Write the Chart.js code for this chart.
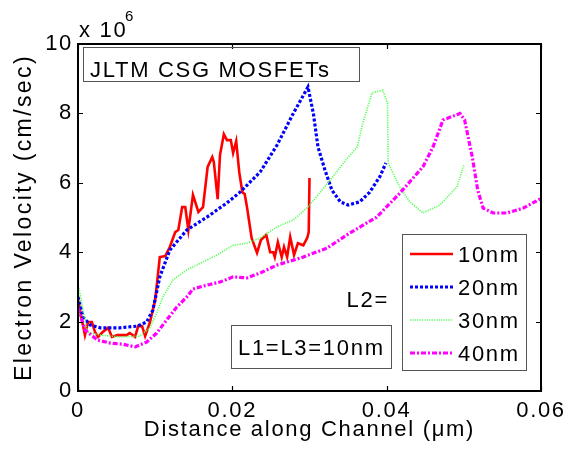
<!DOCTYPE html>
<html><head><meta charset="utf-8">
<script src="https://cdn.jsdelivr.net/npm/chart.js@4.4.0/dist/chart.umd.min.js"></script>
<style>html,body{margin:0;padding:0;background:#fff;overflow:hidden}</style>
</head><body>
<canvas id="c" width="574" height="451"></canvas>
<script>
// ---- data (velocity in units of 1e6 cm/sec, distance in µm) ----
const seriesLabels = ['10nm', '20nm', '30nm', '40nm'];

const x10 = [0,0.0009,0.0013,0.0018,0.0022,0.0026,0.0032,0.0039,0.0044,0.0051,0.0063,0.0067,0.0074,0.0078,0.0083,0.0087,0.0093,0.0100,0.0106,0.0113,0.0119,0.0126,0.0130,0.0135,0.0139,0.0143,0.0149,0.0156,0.0162,0.0168,0.0174,0.0176,0.0181,0.0184,0.0189,0.0193,0.0198,0.0201,0.0205,0.0209,0.0213,0.0216,0.0219,0.0225,0.0232,0.0237,0.0244,0.0249,0.0253,0.0255,0.0259,0.0264,0.0267,0.0271,0.0275,0.0280,0.0285,0.0292,0.0297,0.0299,0.0300];
const v10 = [2.62,1.61,1.99,1.99,1.70,1.56,1.70,1.82,1.56,1.61,1.61,1.67,1.56,1.87,1.87,1.58,1.96,2.62,3.86,3.89,4.15,4.58,4.64,5.30,5.30,4.64,5.65,5.16,5.30,6.46,6.74,6.60,5.53,6.80,7.40,7.23,7.23,6.86,7.20,6.30,5.73,5.68,5.30,4.41,3.98,4.35,4.50,4.00,4.00,3.86,4.29,3.86,4.15,3.86,4.44,3.92,4.26,4.20,4.41,4.58,6.14];

const x20 = [0,0.00065,0.0016,0.0029,0.0054,0.0077,0.0089,0.0097,0.0106,0.0119,0.0141,0.0167,0.0193,0.0210,0.0236,0.0258,0.0279,0.0298,0.0305,0.0311,0.0320,0.0329,0.0340,0.0350,0.0365,0.0378,0.0391,0.0399];
const v20 = [2.71,2.13,1.90,1.82,1.82,1.87,1.99,2.33,3.29,4.06,4.64,5.01,5.42,5.73,6.31,7.09,8.00,8.76,8.00,7.03,6.37,5.79,5.45,5.36,5.45,5.73,6.17,6.57];

const x30 = [0,0.0012,0.0029,0.0054,0.0080,0.0093,0.0102,0.0110,0.0123,0.0141,0.0162,0.0180,0.0201,0.0219,0.0236,0.0258,0.0279,0.0298,0.0327,0.0349,0.0362,0.0369,0.0381,0.0395,0.0401,0.0402,0.0417,0.0430,0.0447,0.0469,0.0491,0.0500];
const v30 = [3.10,1.70,1.61,1.56,1.58,1.82,2.25,2.71,3.20,3.49,3.72,3.92,4.20,4.26,4.41,4.73,4.93,5.30,6.08,6.71,7.03,7.72,8.59,8.67,8.30,6.57,5.88,5.45,5.13,5.36,5.88,6.51];

const x40 = [0,0.0009,0.0025,0.0042,0.0058,0.0074,0.0089,0.0102,0.0115,0.0128,0.0141,0.0149,0.0167,0.0184,0.0201,0.0219,0.0236,0.0258,0.0288,0.0323,0.0352,0.0387,0.0417,0.0447,0.0460,0.0473,0.0495,0.0501,0.0511,0.0518,0.0525,0.0538,0.0556,0.0577,0.0600];
const v40 = [2.40,1.76,1.47,1.38,1.35,1.27,1.41,1.67,2.05,2.42,2.71,2.94,3.05,3.14,3.29,3.26,3.40,3.63,3.83,4.12,4.55,5.01,5.70,6.46,7.03,7.81,8.00,7.81,6.74,5.79,5.27,5.13,5.13,5.27,5.55];

const xTickValues = [0, 0.02, 0.04, 0.06];
const xTickLabels = ['0', '0.02', '0.04', '0.06'];
const yTickValues = [0, 2, 4, 6, 8, 10];
const yTickLabels = ['0', '2', '4', '6', '8', '10'];

const xValues = [x10, x20, x30, x40];
const yValues = [v10, v20, v30, v40];

const xTitle = 'Distance along Channel (\u03bcm)';
const yTitle = 'Electron Velocity (cm/sec)';

// ---- styles ----
const FONT = "'Liberation Sans', Arial, Helvetica, sans-serif";
const styles = [
  {color: '#ff0000', width: 2.6, dash: []},
  {color: '#0000ff', width: 3.2, dash: [3, 2]},
  {color: '#55ff55', width: 1.6, dash: [1.2, 1.2]},
  {color: '#ff00ff', width: 3.2, dash: [5, 2, 2, 2]}
];

const datasets = seriesLabels.map((lab, i) => ({
  label: lab,
  data: xValues[i].map((x, j) => ({x: x, y: yValues[i][j]})),
  borderColor: styles[i].color,
  borderWidth: styles[i].width,
  borderDash: styles[i].dash,
  pointRadius: 0,
  tension: 0,
  fill: false,
  order: 4 - i
}));

function txt(ctx, s, x, y, size, align, base) {
  ctx.font = size + 'px ' + FONT;
  ctx.textAlign = align || 'left';
  ctx.textBaseline = base || 'alphabetic';
  ctx.fillStyle = '#000';
  ctx.fillText(s, x, y);
}

const spacingPlugin = {
  id: 'spacing',
  beforeLayout(chart) { chart.ctx.letterSpacing = '1.7px'; },
  beforeDraw(chart) { chart.ctx.letterSpacing = '1.7px'; }
};

const framePlugin = {
  id: 'frame',
  afterDraw(chart) {
    const ctx = chart.ctx;
    const a = chart.chartArea;
    const xs = chart.scales.x, ys = chart.scales.y;
    ctx.save();
    ctx.letterSpacing = '1.7px';
    // box
    ctx.strokeStyle = '#000';
    ctx.lineWidth = 2;
    ctx.setLineDash([]);
    ctx.strokeRect(a.left, a.top, a.right - a.left, a.bottom - a.top);
    // inward ticks
    ctx.lineWidth = 1.2;
    ctx.beginPath();
    xTickValues.forEach(v => {
      const px = Math.round(xs.getPixelForValue(v)) + 0.5;
      ctx.moveTo(px, a.bottom); ctx.lineTo(px, a.bottom - 5);
      ctx.moveTo(px, a.top); ctx.lineTo(px, a.top + 5);
    });
    yTickValues.forEach(v => {
      const py = Math.round(ys.getPixelForValue(v)) + 0.5;
      ctx.moveTo(a.left, py); ctx.lineTo(a.left + 5, py);
      ctx.moveTo(a.right, py); ctx.lineTo(a.right - 5, py);
    });
    ctx.stroke();

    // y axis title (rotated)
    ctx.save();
    ctx.letterSpacing = '2.4px';
    ctx.translate(25, (a.top + a.bottom) / 2);
    ctx.rotate(-Math.PI / 2);
    txt(ctx, yTitle, 0, 0, 23, 'center', 'middle');
    ctx.restore();

    // exponent label
    txt(ctx, 'x 10', a.left + 1, 37, 22);
    txt(ctx, '6', a.left + 47, 21, 15);

    // text boxes
    ctx.strokeStyle = '#555';
    ctx.lineWidth = 1;
    ctx.strokeRect(83.5, 47.5, 276, 34);
    txt(ctx, 'JLTM CSG MOSFETs', 90, 77, 22);
    ctx.strokeRect(231.5, 325.5, 160, 43);
    txt(ctx, 'L1=L3=10nm', 238, 355, 22);
    txt(ctx, 'L2=', 389, 307, 22, 'right');

    // legend
    ctx.strokeRect(402.5, 234.5, 124, 136);
    const rows = [254, 287, 320, 353];
    chart.data.datasets.forEach((ds, i) => {
      ctx.save();
      ctx.strokeStyle = ds.borderColor;
      ctx.lineWidth = ds.borderWidth;
      ctx.setLineDash(ds.borderDash);
      ctx.beginPath();
      ctx.moveTo(410, rows[i]);
      ctx.lineTo(453, rows[i]);
      ctx.stroke();
      ctx.restore();
      txt(ctx, ds.label, 458, rows[i] + 8, 22);
    });
    ctx.restore();
  }
};

new Chart(document.getElementById('c'), {
  type: 'line',
  data: {datasets: datasets},
  options: {
    responsive: false,
    animation: false,
    devicePixelRatio: 1,
    layout: {padding: {top: 44, right: 33, left: 0, bottom: 0}},
    plugins: {legend: {display: false}, tooltip: {enabled: false}},
    scales: {
      x: {
        type: 'linear', min: 0, max: 0.06,
        afterFit: s => { s.height = 60; },
        afterBuildTicks: s => { s.ticks = xTickValues.map(v => ({value: v})); },
        grid: {display: false, drawTicks: false},
        border: {display: false},
        ticks: {
          padding: 7, color: '#000', maxRotation: 0, autoSkip: false,
          font: {family: FONT, size: 22},
          callback: (v) => { const k = xTickValues.indexOf(v); return k >= 0 ? xTickLabels[k] : ''; }
        },
        title: {display: true, text: xTitle, color: '#000',
                font: {family: FONT, size: 22}, padding: {top: 0, bottom: 8}}
      },
      y: {
        type: 'linear', min: 0, max: 10,
        afterFit: s => { s.width = 78; },
        afterBuildTicks: s => { s.ticks = yTickValues.map(v => ({value: v})); },
        grid: {display: false, drawTicks: false},
        border: {display: false},
        ticks: {
          padding: 5, color: '#000', autoSkip: false,
          font: {family: FONT, size: 22},
          callback: (v) => { const k = yTickValues.indexOf(v); return k >= 0 ? yTickLabels[k] : ''; }
        },
        title: {display: false}
      }
    }
  },
  plugins: [spacingPlugin, framePlugin]
});
</script>
</body></html>
